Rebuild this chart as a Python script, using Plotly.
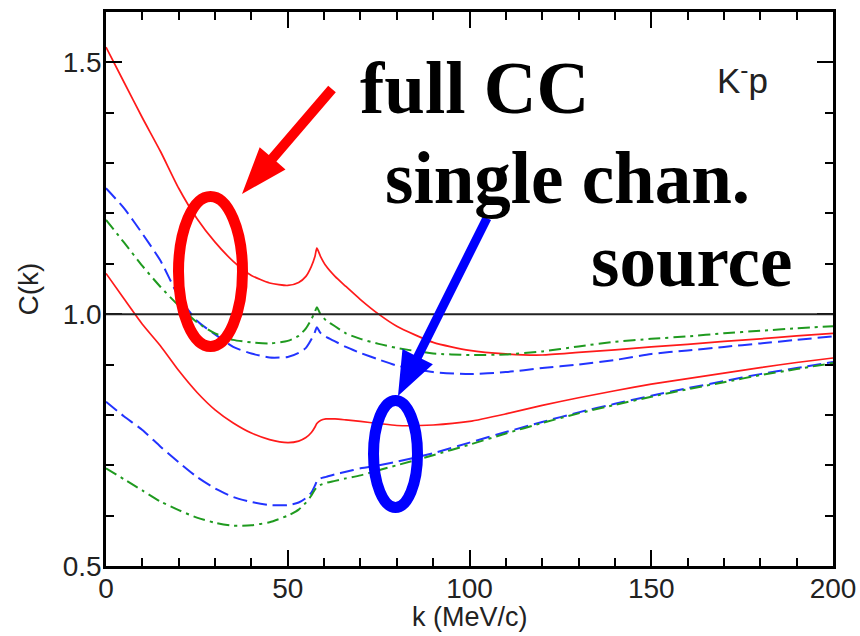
import math
import plotly.graph_objects as go

# ---------------- data ----------------
k = [0, 5, 10, 15, 20, 25, 30, 35, 40, 45, 50, 53, 55, 56.5, 57.5, 58, 59, 60.5,
     63, 66, 70, 75, 80, 90, 100, 110, 120, 130, 140, 150, 160, 170, 180, 190, 200]

full_cc_upper = [1.530, 1.460, 1.390, 1.323, 1.250, 1.190, 1.143, 1.105, 1.077, 1.062,
                 1.057, 1.063, 1.075, 1.095, 1.115, 1.131, 1.115, 1.096, 1.075, 1.055,
                 1.029, 1.000, 0.976, 0.944, 0.928, 0.921, 0.919, 0.924, 0.929, 0.935,
                 0.940, 0.946, 0.951, 0.957, 0.962]
single_chan_upper = [1.250, 1.210, 1.160, 1.106, 1.035, 0.987, 0.960, 0.935, 0.922, 0.914,
                     0.915, 0.923, 0.933, 0.950, 0.965, 0.974, 0.963, 0.955, 0.946, 0.935,
                     0.923, 0.910, 0.898, 0.885, 0.881, 0.885, 0.893, 0.900, 0.909, 0.921,
                     0.928, 0.935, 0.942, 0.949, 0.956]
source_upper = [1.187, 1.142, 1.096, 1.054, 1.017, 0.984, 0.962, 0.949, 0.944, 0.942,
                0.947, 0.957, 0.972, 0.990, 1.005, 1.014, 1.000, 0.988, 0.976, 0.962,
                0.951, 0.941, 0.933, 0.922, 0.919, 0.920, 0.926, 0.936, 0.945, 0.951,
                0.956, 0.962, 0.967, 0.972, 0.976]

full_cc_lower = [1.081, 1.030, 0.980, 0.937, 0.888, 0.845, 0.810, 0.784, 0.764, 0.751,
                 0.745, 0.748, 0.755, 0.765, 0.776, 0.783, 0.789, 0.792, 0.792, 0.790,
                 0.787, 0.783, 0.779, 0.780, 0.787, 0.802, 0.819, 0.834, 0.848, 0.861,
                 0.872, 0.883, 0.894, 0.904, 0.913]
single_chan_lower = [0.826, 0.797, 0.770, 0.737, 0.706, 0.677, 0.654, 0.637, 0.627, 0.621,
                     0.621, 0.626, 0.635, 0.646, 0.660, 0.668, 0.674, 0.677, 0.682, 0.687,
                     0.694, 0.700, 0.707, 0.724, 0.745, 0.766, 0.786, 0.805, 0.822, 0.838,
                     0.853, 0.867, 0.881, 0.893, 0.905]
source_lower = [0.694, 0.672, 0.650, 0.628, 0.611, 0.596, 0.586, 0.580, 0.581, 0.587,
                0.600, 0.612, 0.626, 0.640, 0.652, 0.657, 0.661, 0.665, 0.669, 0.674,
                0.680, 0.690, 0.700, 0.720, 0.741, 0.763, 0.784, 0.803, 0.820, 0.836,
                0.851, 0.865, 0.879, 0.891, 0.903]

REF_LEVEL = 1.0
x_ticks = [0, 50, 100, 150, 200]
y_ticks = [0.5, 1.0, 1.5]

# ---------------- figure ----------------
W, H = 860, 636
ML, MR, MT, MB = 106, 27, 12, 70
PW, PH = W - ML - MR, H - MT - MB


def px(x):
    return (x - ML) / PW


def py(y):
    return (H - MB - y) / PH


RED = "#ff1a1a"
BLUE = "#2233ff"
GREEN = "#1f9a1f"
SANS = "Liberation Sans, Arial, sans-serif"

fig = go.Figure()
series = [
    ("full CC", full_cc_upper, RED, "solid", 1.7),
    ("single chan.", single_chan_upper, BLUE, "14px,6px", 2),
    ("source", source_upper, GREEN, "12px,5px,3px,5px", 2),
    ("full CC", full_cc_lower, RED, "solid", 1.7),
    ("single chan.", single_chan_lower, BLUE, "14px,6px", 2),
    ("source", source_lower, GREEN, "12px,5px,3px,5px", 2),
]
for name, vals, col, dash, w in series:
    fig.add_trace(go.Scatter(x=k, y=vals, mode="lines", name=name,
                             line=dict(color=col, dash=dash, width=w,
                                       shape="spline", smoothing=0.6),
                             showlegend=False))

shapes = [dict(type="line", xref="x", yref="y", x0=k[0], x1=k[-1],
               y0=REF_LEVEL, y1=REF_LEVEL, line=dict(color="#222", width=2))]


def arrow(tail, tip, shaft_w, head_len, head_w, color):
    tx, ty = tail
    hx, hy = tip
    dx, dy = hx - tx, hy - ty
    L = math.hypot(dx, dy)
    ux, uy = dx / L, dy / L
    nx, ny = -uy, ux
    bx, by = hx - ux * head_len, hy - uy * head_len
    pts = [
        (tx + nx * shaft_w / 2, ty + ny * shaft_w / 2),
        (bx + nx * shaft_w / 2, by + ny * shaft_w / 2),
        (bx + nx * head_w / 2, by + ny * head_w / 2),
        (hx, hy),
        (bx - nx * head_w / 2, by - ny * head_w / 2),
        (bx - nx * shaft_w / 2, by - ny * shaft_w / 2),
        (tx - nx * shaft_w / 2, ty - ny * shaft_w / 2),
    ]
    path = "M " + " L ".join(f"{px(a):.5f},{py(b):.5f}" for a, b in pts) + " Z"
    return dict(type="path", xref="paper", yref="paper", path=path,
                fillcolor=color, line=dict(color=color, width=0))


shapes.append(arrow((332, 89), (242, 194), 10, 47, 34, "#ff0000"))
shapes.append(arrow((487, 218), (398, 396), 9, 44, 34, "#0000ff"))
shapes.append(dict(type="circle", xref="paper", yref="paper",
                   x0=px(178.5), x1=px(242.5), y0=py(346.5), y1=py(196.5),
                   line=dict(color="#ff0000", width=11)))
shapes.append(dict(type="circle", xref="paper", yref="paper",
                   x0=px(373.5), x1=px(417.5), y0=py(507.5), y1=py(400.5),
                   line=dict(color="#0000ff", width=11)))

big = dict(family="Liberation Serif, Times New Roman, serif", size=73, color="black")
annotations = [
    dict(text="<b>full CC</b>", x=px(474), y=py(89), xref="paper", yref="paper",
         showarrow=False, xanchor="center", yanchor="middle", font=big),
    dict(text="<b>single chan.</b>", x=px(567), y=py(178), xref="paper", yref="paper",
         showarrow=False, xanchor="center", yanchor="middle", font=big),
    dict(text="<b>source</b>", x=px(691), y=py(261), xref="paper", yref="paper",
         showarrow=False, xanchor="center", yanchor="middle", font=big),
    dict(text="K<sup>-</sup>p", x=px(742), y=py(78), xref="paper", yref="paper",
         showarrow=False, xanchor="center", yanchor="middle",
         font=dict(family=SANS, size=35, color="#222")),
    dict(text="k (MeV/c)", x=0.5, y=py(617), xref="paper", yref="paper",
         showarrow=False, xanchor="center", yanchor="middle",
         font=dict(family=SANS, size=27, color="#222")),
]

axis_common = dict(showline=True, linecolor="black", linewidth=2.5, mirror="allticks",
                   ticks="inside", ticklen=16, tickwidth=2, tickcolor="black",
                   showgrid=False, zeroline=False, automargin=False,
                   tickfont=dict(family=SANS, size=28, color="#222"))

fig.update_layout(
    width=W, height=H, margin=dict(l=ML, r=MR, t=MT, b=MB, autoexpand=False),
    paper_bgcolor="white", plot_bgcolor="white",
    shapes=shapes, annotations=annotations,
    xaxis=dict(range=[0, 200], tickvals=x_ticks, ticklabelstandoff=-4,
               minor=dict(dtick=10, tick0=0, ticks="inside", ticklen=8, tickwidth=1.5,
                          tickcolor="black"),
               **axis_common),
    yaxis=dict(range=[0.5, 1.6], tickvals=y_ticks, tickformat=".1f",
               ticklabelstandoff=-4,
               minor=dict(dtick=0.1, tick0=0.5, ticks="inside", ticklen=8, tickwidth=1.5,
                          tickcolor="black"),
               title=dict(text="C(k)", standoff=16,
                          font=dict(family=SANS, size=28, color="#222")),
               **axis_common),
)

fig.write_html("out.html")
